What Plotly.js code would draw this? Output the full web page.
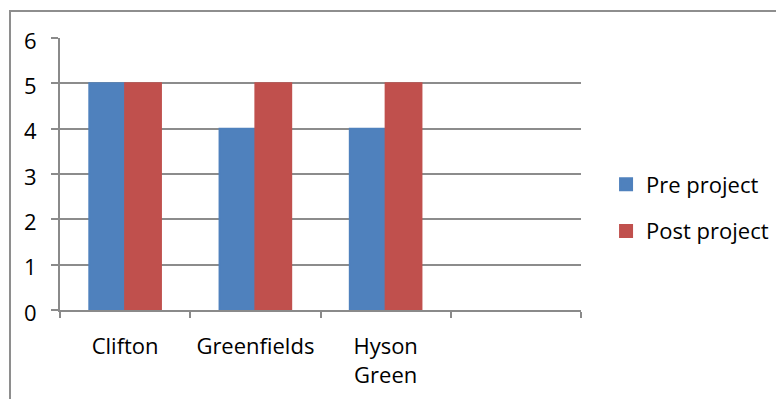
<!DOCTYPE html>
<html>
<head>
<meta charset="utf-8">
<script src="https://cdn.plot.ly/plotly-3.0.1.min.js"></script>
<style>
  html, body { margin: 0; padding: 0; background: #fff; }
  #wrap { position: relative; width: 776px; height: 399px; }
  #chart { position: absolute; left: 0; top: 0; width: 776px; height: 399px; }
  #frame { position: absolute; left: 9px; top: 10px; width: 800px; height: 420px;
           border-left: 2px solid #8e8e8e; border-top: 2px solid #8e8e8e; pointer-events: none; }
</style>
</head>
<body>
<div id="wrap">
  <div id="chart"></div>
  <div id="frame"></div>
</div>
<script>
const categories = ['Clifton', 'Greenfields', 'Hyson<br>Green', ' '];
const preProject = [5, 4, 4, null];
const postProject = [5, 5, 5, null];
const seriesNames = ['Pre project', 'Post project'];
const yTicks = [0, 1, 2, 3, 4, 5, 6];

const FONT = 'Open Sans, Noto Sans, sans-serif';

const data = [
  { type: 'bar', name: seriesNames[0], x: categories, y: preProject,
    marker: { color: '#4F81BD', line: { color: '#4F81BD', width: 2 } },
    legendgroup: 'a', hoverinfo: 'x+y' },
  { type: 'bar', name: seriesNames[1], x: categories, y: postProject,
    marker: { color: '#C0504D', line: { color: '#C0504D', width: 2 } },
    legendgroup: 'b', hoverinfo: 'x+y' }
];

const layout = {
  width: 776, height: 399,
  margin: { l: 60, r: 195, t: 38, b: 89, pad: 0, autoexpand: false },
  paper_bgcolor: 'rgba(0,0,0,0)',
  plot_bgcolor: 'rgba(0,0,0,0)',
  barmode: 'group', bargap: 0.45, bargroupgap: 0,
  font: { family: FONT, size: 22, color: '#000' },
  xaxis: {
    type: 'category', categoryorder: 'array', categoryarray: categories,
    range: [-0.5, 3.5], tickson: 'boundaries',
    showgrid: false, showline: true, linecolor: '#8a8a8a', linewidth: 2,
    ticks: 'outside', ticklen: 6, tickwidth: 2, tickcolor: '#8a8a8a',
    ticklabelstandoff: 16,
    tickfont: { family: FONT, size: 22, color: '#000' },
    zeroline: false, fixedrange: true, automargin: false
  },
  yaxis: {
    range: [0, 6], tickvals: yTicks, ticktext: yTicks.map(String),
    showgrid: true, gridcolor: '#8c8c8c', gridwidth: 2,
    showline: true, linecolor: '#8a8a8a', linewidth: 2,
    ticks: 'outside', ticklen: 7, tickwidth: 2, tickcolor: '#8a8a8a',
    ticklabelstandoff: 10, ticklabelshift: 3,
    tickfont: { family: FONT, size: 22, color: '#000' },
    zeroline: false, fixedrange: true, automargin: false
  },
  showlegend: true,
  legend: {
    xref: 'container', x: 0.781, xanchor: 'left', y: 0.375, yanchor: 'middle',
    font: { family: FONT, size: 22, color: '#000' },
    tracegroupgap: 15, bgcolor: 'rgba(0,0,0,0)', borderwidth: 0
  }
};

Plotly.newPlot('chart', data, layout, { staticPlot: true, displayModeBar: false });
</script>
</body>
</html>
